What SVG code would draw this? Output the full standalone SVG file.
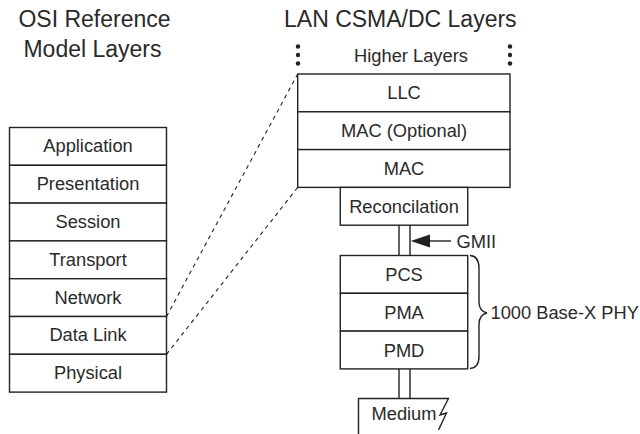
<svg xmlns="http://www.w3.org/2000/svg" width="640" height="434" viewBox="0 0 640 434">
<style>
text{font-family:"Liberation Sans",Arial,sans-serif;fill:#2a2a2a}
.t{font-size:23px}
.l{font-size:18.3px;text-anchor:middle}
.b{fill:#fff;stroke:#222;stroke-width:1.4}
.ln{fill:none;stroke:#222;stroke-width:1.4}
.d{fill:none;stroke:#222;stroke-width:1.1;stroke-dasharray:4 4}
</style>
<rect width="640" height="434" fill="#fff"/>
<g id="titles">
<text class="t" x="94.5" y="27" text-anchor="middle">OSI Reference</text>
<text class="t" x="92.5" y="57" text-anchor="middle">Model Layers</text>
<text class="t" x="284" y="27">LAN CSMA/DC Layers</text>
</g>
<g id="osi">
<g id="application"><rect class="b" x="9.5" y="127.5" width="157" height="37.8"/><text class="l" x="88" y="152.3">Application</text></g>
<g id="presentation"><rect class="b" x="9.5" y="165.3" width="157" height="37.8"/><text class="l" x="88" y="190.1">Presentation</text></g>
<g id="session"><rect class="b" x="9.5" y="203.1" width="157" height="37.8"/><text class="l" x="88" y="227.9">Session</text></g>
<g id="transport"><rect class="b" x="9.5" y="240.9" width="157" height="37.8"/><text class="l" x="88" y="265.7">Transport</text></g>
<g id="network"><rect class="b" x="9.5" y="278.7" width="157" height="37.8"/><text class="l" x="88" y="303.5">Network</text></g>
<g id="datalink"><rect class="b" x="9.5" y="316.5" width="157" height="37.8"/><text class="l" x="88" y="341.3">Data Link</text></g>
<g id="physical"><rect class="b" x="9.5" y="354.3" width="157" height="37.8"/><text class="l" x="88" y="379.1">Physical</text></g>
</g>
<g id="higher">
<text class="l" x="411" y="62">Higher Layers</text>
<circle cx="298" cy="46.5" r="2.2" fill="#222"/><circle cx="298" cy="55" r="2.2" fill="#222"/><circle cx="298" cy="63.5" r="2.2" fill="#222"/>
<circle cx="510" cy="46.5" r="2.2" fill="#222"/><circle cx="510" cy="55" r="2.2" fill="#222"/><circle cx="510" cy="63.5" r="2.2" fill="#222"/>
</g>
<g id="llc"><rect class="b" x="297.7" y="74" width="212.3" height="37.8"/><text class="l" x="404" y="99">LLC</text></g>
<g id="macopt"><rect class="b" x="297.7" y="111.8" width="212.3" height="37.8"/><text class="l" x="404" y="137">MAC (Optional)</text></g>
<g id="mac"><rect class="b" x="297.7" y="149.6" width="212.3" height="37.8"/><text class="l" x="404" y="175">MAC</text></g>
<g id="reconcilation"><rect class="b" x="340.3" y="187.4" width="127.4" height="37.8"/><text class="l" x="404" y="212.5">Reconcilation</text></g>
<g id="pcs"><rect class="b" x="340.3" y="255.5" width="127.4" height="37.8"/><text class="l" x="404" y="281">PCS</text></g>
<g id="pma"><rect class="b" x="340.3" y="293.3" width="127.4" height="37.8"/><text class="l" x="404" y="318.5">PMA</text></g>
<g id="pmd"><rect class="b" x="340.3" y="331.1" width="127.4" height="37.8"/><text class="l" x="404" y="356.5">PMD</text></g>
<g id="medium">
<path class="ln" d="M358.5,440 V398.5 H448.5 L440,415 L446.5,413 L438.5,430" fill="#fff"/>
<text class="l" x="404" y="419.5">Medium</text>
</g>
<g id="phy-label">
<path class="ln" d="M470,255.5 Q479,256 479,268 V302 Q479,311 487,313 Q479,315 479,324 V356 Q479,368 470,368.5"/>
<text x="490.5" y="319" style="font-size:18.3px">1000 Base-X PHY</text>
</g>
<g id="gmii-label"><text x="456.5" y="247.5" style="font-size:18.3px">GMII</text></g>
<g id="connectors">
<path class="ln" d="M399,225.2 V255.5 M410,225.2 V255.5"/>
<path class="ln" d="M399,368.9 V398.5 M410,368.9 V398.5"/>
<path class="ln" d="M451,241 H429"/>
<polygon points="410.7,241 430,234.5 430,247.5" fill="#222"/>
<path class="d" d="M166.5,316.5 L297.7,74"/>
<path class="d" d="M166.5,354.3 L297.7,187.4"/>
</g>
</svg>
